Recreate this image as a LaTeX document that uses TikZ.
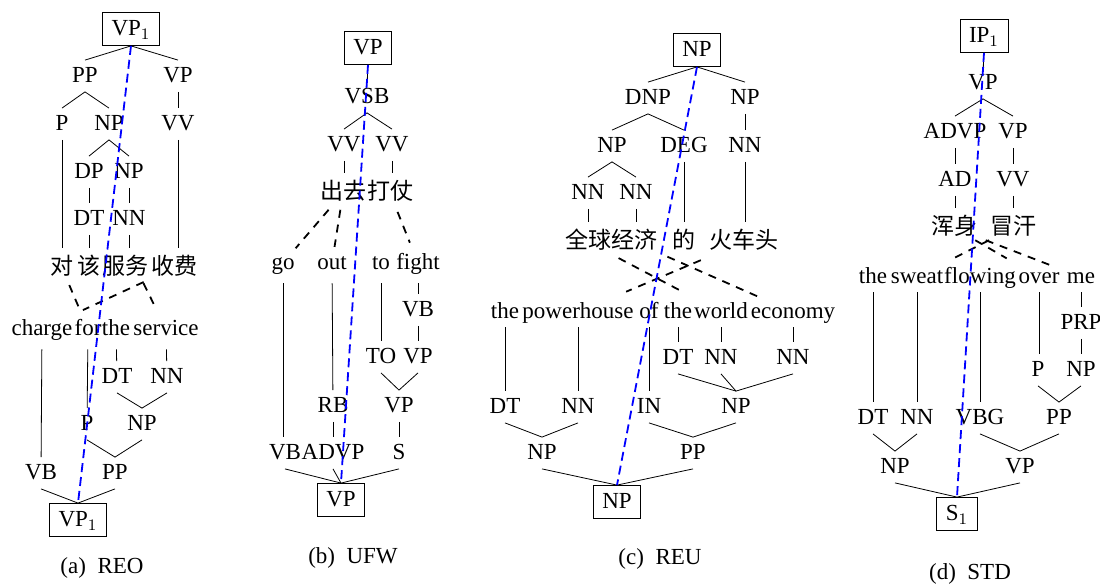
\documentclass[tikz,border=0pt]{standalone}
\usepackage{fontspec}
\setmainfont{Liberation Serif}
\newfontfamily\cjk{Noto Sans CJK SC}
\usepackage{tikz}
\usetikzlibrary{calc}
\newcommand\labfont{\fontsize{11.5}{14}\selectfont}
\tikzstyle{lab}      = [font=\labfont, inner xsep=1pt, inner ysep=2.25pt, text height=9pt, text depth=2pt]
\tikzstyle{word}     = [lab, inner ysep=4.5pt]
\tikzstyle{tword}    = [lab, inner ysep=2pt]
\tikzstyle{zh}       = [word, font=\cjk\labfont]
\tikzstyle{root}     = [lab, draw, inner xsep=4.5pt, inner ysep=2.75pt]
\tikzstyle{link}     = [line width=0.9pt, dash pattern=on 4pt off 3.5pt]
\tikzstyle{headpath} = [blue, line width=0.9pt, dash pattern=on 4.5pt off 2.5pt]

\begin{document}
\begin{tikzpicture}[x=0.5pt, y=-0.5pt]
	\useasboundingbox (0,0) rectangle (1100,588);
	% (a) REO
	\node[root] (aTop) at (131,29) {VP$_1$};
	\node[lab] (aPP) at (85,76) {PP};
	\node[lab] (aVP) at (178,76) {VP};
	\node[lab] (aP) at (62,124) {P};
	\node[lab] (aNP) at (109,124) {NP};
	\node[lab] (aVV) at (178,124) {VV};
	\node[lab] (aDP) at (89,172) {DP};
	\node[lab] (aNPb) at (129,172) {NP};
	\node[lab] (aDT) at (89,219) {DT};
	\node[lab] (aNN) at (129,219) {NN};
	\node[zh] (aDui) at (62,268) {对};
	\node[zh] (aGai) at (89,268) {该};
	\node[zh] (aFuwu) at (126,268) {服务};
	\node[zh] (aShoufei) at (174,268) {收费};
	\node[word] (aCharge) at (42,329) {charge};
	\node[word] (aFor) at (88,329) {for};
	\node[word] (aThe) at (116,329) {the};
	\node[word] (aService) at (166,329) {service};
	\node[lab] (aDT2) at (117,377) {DT};
	\node[lab] (aNN2) at (167,377) {NN};
	\node[lab] (aP2) at (87,424) {P};
	\node[lab] (aNP2) at (142,424) {NP};
	\node[lab] (aVB) at (41,473) {VB};
	\node[lab] (aPP2) at (115,473) {PP};
	\node[root] (aBot) at (78,520) {VP$_1$};
	\node[lab] (aCap) at (102,567) {(a)~~REO};
	\draw (aPP.north) -- (aTop.south) -- (aVP.north);
	\draw (aVP) -- (aVV);
	\draw (aP.north) -- (aPP.south) -- (aNP.north);
	\draw (aDP.north) -- (aNP.south) -- (aNPb.north);
	\draw (aDP) -- (aDT);
	\draw (aNPb) -- (aNN);
	\draw (aP) -- (aDui);
	\draw (aDT) -- (aGai);
	\draw (aNN) -- (aNN |- aFuwu.north);
	\draw (aVV) -- (aVV |- aShoufei.north);
	\draw (aCharge) -- (aVB);
	\draw (aFor) -- (aP2);
	\draw (aThe) -- (aDT2);
	\draw (aService) -- (aNN2);
	\draw (aDT2.south) -- (aNP2.north) -- (aNN2.south);
	\draw (aP2.south) -- (aPP2.north) -- (aNP2.south);
	\draw (aVB.south) -- (aBot.north) -- (aPP2.south);
	\draw[link] ($(aDui)!.28!(aFor)$) -- ($(aDui)!.72!(aFor)$);
	\draw[link] ($(aShoufei)!.23!(aCharge)$) -- ($(aShoufei)!.69!(aCharge)$);
	\draw[link] ($([xshift=5pt]aFuwu.center)!.25!(aService)$) -- ($([xshift=5pt]aFuwu.center)!.61!(aService)$);
	\draw[headpath] (aTop.south) -- (aBot.north);
	% (b) UFW
	\node[root] (bTop) at (368,48) {VP};
	\node[lab] (bVSB) at (367,97) {VSB};
	\node[lab] (bVV1) at (344,145) {VV};
	\node[lab] (bVV2) at (392,145) {VV};
	\node[zh] (bChuqu) at (343,193) {出去};
	\node[zh] (bDazhang) at (390,193) {打仗};
	\node[word] (bGo) at (283,263) {go};
	\node[word] (bOut) at (332,263) {out};
	\node[word] (bTo) at (381,263) {to};
	\node[word] (bFight) at (418,263) {fight};
	\node[lab] (bVB) at (418,310) {VB};
	\node[lab] (bTO) at (381,357) {TO};
	\node[lab] (bVP1) at (418,357) {VP};
	\node[lab] (bRB) at (333,406) {RB};
	\node[lab] (bVP2) at (399,406) {VP};
	\node[lab] (bVB2) at (285,453) {VB};
	\node[lab] (bADVP) at (333,453) {ADVP};
	\node[lab] (bS) at (399,453) {S};
	\node[root] (bBot) at (341,500) {VP};
	\node[lab] (bCap) at (353,557) {(b)~~UFW};
	\draw (bTop) -- (bVSB);
	\draw (bVV1.north) -- (bVSB.south) -- (bVV2.north);
	\draw (bVV1) -- (bVV1 |- bChuqu.north);
	\draw (bVV2) -- (bVV2 |- bDazhang.north);
	\draw (bGo) -- (bGo |- bVB2.north);
	\draw (bOut) -- (bRB);
	\draw (bTo) -- (bTO);
	\draw (bFight) -- (bVB);
	\draw (bVB) -- (bVP1);
	\draw (bTO.south) -- (bVP2.north) -- (bVP1.south);
	\draw (bRB) -- (bADVP);
	\draw (bVP2) -- (bS);
	\draw (bVB2.south) -- (bBot.north) -- (bS.south);
	\draw (bADVP.south) -- (bBot.north);
	\draw[link] ($(bChuqu)!.24!(bGo)$) -- ($(bChuqu)!.79!(bGo)$);
	\draw[link] ($(bChuqu)!.24!(bOut)$) -- ($(bChuqu)!.77!(bOut)$);
	\draw[link] ($(bDazhang)!.27!(bFight)$) -- ($(bDazhang)!.71!(bFight)$);
	\draw[headpath] (bTop.south) -- (bBot.north);
	% (c) REU
	\node[root] (cTop) at (697,50) {NP};
	\node[lab] (cDNP) at (648,98) {DNP};
	\node[lab] (cNP1) at (745,98) {NP};
	\node[lab] (cNP2) at (612,146) {NP};
	\node[lab] (cDEG) at (684,146) {DEG};
	\node[lab] (cNN1) at (745,146) {NN};
	\node[lab] (cNN2) at (588,193) {NN};
	\node[lab] (cNN3) at (636,193) {NN};
	\node[zh] (cQuanqiu) at (588,242) {全球};
	\node[zh] (cJingji) at (634,242) {经济};
	\node[zh] (cDe) at (684,242) {的};
	\node[zh] (cHuochetou) at (744,242) {火车头};
	\node[tword] (cThe1) at (505,312) {the};
	\node[tword] (cPowerhouse) at (578,312) {powerhouse};
	\node[tword] (cOf) at (649,312) {of};
	\node[tword] (cThe2) at (678,312) {the};
	\node[tword] (cWorld) at (721,312) {world};
	\node[tword] (cEconomy) at (793,312) {economy};
	\node[lab] (cDT1) at (678,358) {DT};
	\node[lab] (cNN4) at (721,358) {NN};
	\node[lab] (cNN5) at (793,358) {NN};
	\node[lab] (cDT2) at (505,407) {DT};
	\node[lab] (cNN6) at (578,407) {NN};
	\node[lab] (cIN) at (649,407) {IN};
	\node[lab] (cNP3) at (736,407) {NP};
	\node[lab] (cNP4) at (542,453) {NP};
	\node[lab] (cPP) at (693,453) {PP};
	\node[root] (cBot) at (617,502) {NP};
	\node[lab] (cCap) at (660,558) {(c)~~REU};
	\draw (cDNP.north) -- (cTop.south) -- (cNP1.north);
	\draw (cNP2.north) -- (cDNP.south) -- (cDEG.north);
	\draw (cNP1) -- (cNN1);
	\draw (cNN2.north) -- (cNP2.south) -- (cNN3.north);
	\draw (cNN2) -- (cQuanqiu);
	\draw (cNN3) -- (cNN3 |- cJingji.north);
	\draw (cDEG) -- (cDe);
	\draw (cNN1) -- (cNN1 |- cHuochetou.north);
	\draw (cThe1) -- (cDT2);
	\draw (cPowerhouse) -- (cNN6);
	\draw (cOf) -- (cIN);
	\draw (cThe2) -- (cDT1);
	\draw (cWorld) -- (cNN4);
	\draw (cEconomy) -- (cNN5);
	\draw (cDT1.south) -- (cNP3.north) -- (cNN5.south);
	\draw (cNN4.south) -- (cNP3.north);
	\draw (cDT2.south) -- (cNP4.north) -- (cNN6.south);
	\draw (cIN.south) -- (cPP.north) -- (cNP3.south);
	\draw (cNP4.south) -- (cBot.north) -- (cPP.south);
	\draw[link] ($(cQuanqiu)!.23!(cWorld)$) -- ($(cQuanqiu)!.69!(cWorld)$);
	\draw[link] ($(cJingji)!.21!(cEconomy)$) -- ($(cJingji)!.79!(cEconomy)$);
	\draw[link] ($(cHuochetou)!.26!(cPowerhouse)$) -- ($(cHuochetou)!.71!(cPowerhouse)$);
	\draw[headpath] (cTop.south) -- (cBot.north);
	% (d) STD
	\node[root] (dTop) at (984,36) {IP$_1$};
	\node[lab] (dVP1) at (983,83) {VP};
	\node[lab] (dADVP) at (955,132) {ADVP};
	\node[lab] (dVP2) at (1013,132) {VP};
	\node[lab] (dAD) at (955,180) {AD};
	\node[lab] (dVV) at (1013,180) {VV};
	\node[zh] (dHunshen) at (954,228) {浑身};
	\node[zh] (dMaohan) at (1013,228) {冒汗};
	\node[tword] (dThe) at (873,277) {the};
	\node[tword] (dSweat) at (917,277) {sweat};
	\node[tword] (dFlowing) at (980,277) {flowing};
	\node[tword] (dOver) at (1039,277) {over};
	\node[tword] (dMe) at (1081,277) {me};
	\node[lab] (dPRP) at (1081,323) {PRP};
	\node[lab] (dP) at (1038,370) {P};
	\node[lab] (dNP1) at (1081,370) {NP};
	\node[lab] (dDT) at (873,418) {DT};
	\node[lab] (dNN) at (917,418) {NN};
	\node[lab] (dVBG) at (980,418) {VBG};
	\node[lab] (dPP) at (1059,418) {PP};
	\node[lab] (dNP2) at (895,467) {NP};
	\node[lab] (dVP3) at (1020,467) {VP};
	\node[root] (dBot) at (957,514) {S$_1$};
	\node[lab] (dCap) at (970,573) {(d)~~STD};
	\draw (dTop) -- (dVP1);
	\draw (dADVP.north) -- (dVP1.south) -- (dVP2.north);
	\draw (dADVP) -- (dAD);
	\draw (dVP2) -- (dVV);
	\draw (dAD) -- (dAD |- dHunshen.north);
	\draw (dVV) -- (dMaohan);
	\draw (dThe) -- (dDT);
	\draw (dSweat) -- (dNN);
	\draw (dFlowing) -- (dVBG);
	\draw (dOver) -- (dOver |- dP.north);
	\draw (dMe) -- (dPRP);
	\draw (dPRP) -- (dNP1);
	\draw (dP.south) -- (dPP.north) -- (dNP1.south);
	\draw (dDT.south) -- (dNP2.north) -- (dNN.south);
	\draw (dVBG.south) -- (dVP3.north) -- (dPP.south);
	\draw (dNP2.south) -- (dBot.north) -- (dVP3.south);
	\draw[link] ($(dMaohan)!.25!(dSweat)$) -- ($(dMaohan)!.62!(dSweat)$);
	\draw[link] ($(dHunshen)!.25!(dOver)$) -- ($(dHunshen)!.62!(dOver)$);
	\draw[link] ($(dHunshen)!.25!(dMe)$) -- ($(dHunshen)!.75!(dMe)$);
	\draw[headpath] (dTop.south) -- (dBot.north);
\end{tikzpicture}
\end{document}
